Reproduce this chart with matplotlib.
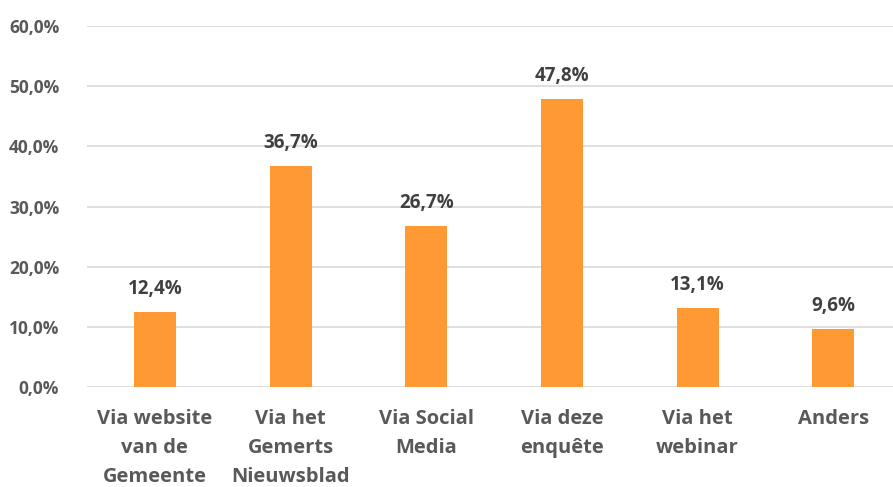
import matplotlib.pyplot as plt
import numpy as np

categories = ["Via website\nvan de\nGemeente", "Via het\nGemerts\nNieuwsblad", "Via Social\nMedia",
              "Via deze\nenquête", "Via het\nwebinar", "Anders"]
values = [12.4, 36.7, 26.7, 47.8, 13.1, 9.6]
yticks = [0, 10, 20, 30, 40, 50, 60]

plt.rcParams['font.family'] = ['Open Sans', 'DejaVu Sans']

fig = plt.figure(figsize=(8.93, 4.87), dpi=100)
ax = fig.add_axes([87 / 893, 100 / 487, 806 / 893, 361 / 487])

x = np.arange(len(categories))
ax.bar(x, values, width=0.31, color='#FF9933', zorder=3)

for xi, v in zip(x, values):
    ax.text(xi, v + 2.2, f"{v:.1f}%".replace('.', ','), ha='center', va='bottom',
            fontsize=13.5, fontweight='bold', color='#404040')

ax.set_xlim(-0.5, 5.44)
ax.set_ylim(0, 60)
ax.set_yticks(yticks)
ax.set_yticklabels([f"{t:.1f}%".replace('.', ',') for t in yticks],
                   fontsize=12.5, fontweight='bold', color='#595959')
ax.set_xticks(x)
ax.set_xticklabels(categories, fontsize=14.5, fontweight='bold', color='#595959', linespacing=1.6)
ax.tick_params(axis='both', length=0)
ax.tick_params(axis='y', pad=20)
ax.tick_params(axis='x', pad=16)
ax.yaxis.grid(True, color='#D9D9D9', linewidth=1.2, zorder=0)
for s in ax.spines.values():
    s.set_visible(False)

fig.savefig('out.png', dpi=100)
